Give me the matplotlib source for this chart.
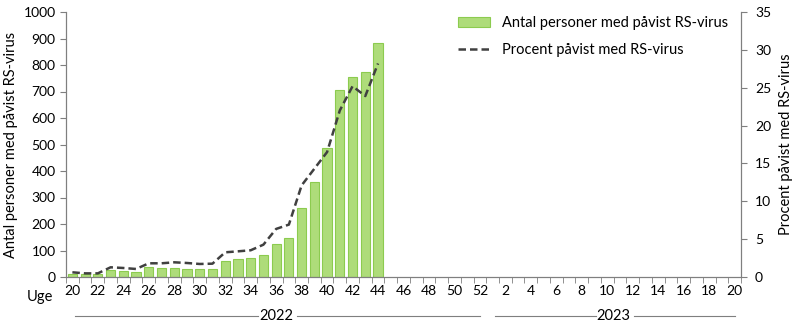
import numpy as np
import matplotlib.pyplot as plt
import matplotlib.transforms as mtransforms

plt.rcParams['font.family'] = ['Lato', 'DejaVu Sans']

# weeks 20-52 of 2022, then 1-20 of 2023
weeks_2022 = list(range(20, 53))
weeks_2023 = list(range(1, 21))
weeks = weeks_2022 + weeks_2023

# counts of persons with RS-virus (weeks 20..44 of 2022)
antal = [13, 10, 13, 28, 24, 20, 39, 35, 35, 31, 31, 31, 62, 69, 73, 84,
         126, 149, 262, 360, 485, 704, 753, 773, 882]
# percent positive
procent = [0.62, 0.48, 0.48, 1.28, 1.19, 1.06, 1.81, 1.81, 1.94, 1.85, 1.72,
           1.76, 3.26, 3.39, 3.53, 4.27, 6.35, 6.92, 12.1, 14.3, 16.5, 22.0,
           25.2, 23.9, 28.2]

tick_labels = [str(w) if w % 2 == 0 else '' for w in weeks]

grey = '#7f7f7f'
fig = plt.figure(figsize=(8.01, 3.32), dpi=100)
ax = fig.add_axes([66/801, 1-277/332, 675/801, 265/332])
ax2 = ax.twinx()

x = np.arange(len(antal))
ax.bar(x, antal, width=0.72, color='#aedc7a', edgecolor='#8ccb4f',
       linewidth=0.8, label='Antal personer med påvist RS-virus', zorder=2)
ax2.plot(x, procent, color='#404040', linestyle=(0, (3, 1.6)), linewidth=1.8,
         label='Procent påvist med RS-virus', zorder=3)

n = len(weeks)
ax.set_xlim(-0.5, n - 0.5)
ax.set_ylim(0, 1000)
ax2.set_ylim(0, 35)
ax.set_yticks(np.arange(0, 1001, 100))
ax2.set_yticks(np.arange(0, 36, 5))
ax.set_xticks(np.arange(n))
ax.set_xticklabels(tick_labels)
ax.set_xticks(np.arange(n + 1) - 0.5, minor=True)
ax.tick_params(axis='x', which='major', length=0, pad=6, labelsize=10)
ax.tick_params(axis='x', which='minor', length=4, color=grey)
ax.tick_params(axis='y', length=4, color=grey, labelsize=10)
ax2.tick_params(axis='y', length=4, color=grey, labelsize=10, pad=6)

for a in (ax, ax2):
    a.spines['top'].set_visible(False)
    for s in ('left', 'right', 'bottom'):
        a.spines[s].set_color(grey)

ax.set_ylabel('Antal personer med påvist RS-virus', fontsize=10.5, labelpad=4)
ax2.set_ylabel('Procent påvist med RS-virus', fontsize=10.5, labelpad=6)

fig.text(40/801, 1-297/332, 'Uge', fontsize=10.5, ha='center', va='center')

# year labels with lines
trans = mtransforms.blended_transform_factory(ax.transData, ax.transAxes)
yy = -39/265
for start, stop, label in [(0, len(weeks_2022) - 1, '2022'),
                           (len(weeks_2022), n - 1, '2023')]:
    mid = (start + stop) / 2
    ax.text(mid, yy, label, transform=trans, ha='center', va='center',
            fontsize=10.5)
    ax.plot([start + 0.2, mid - 1.4], [yy, yy], transform=trans, color=grey,
            linewidth=0.8, clip_on=False)
    ax.plot([mid + 1.6, stop - 0.0], [yy, yy], transform=trans, color=grey,
            linewidth=0.8, clip_on=False)

h1, l1 = ax.get_legend_handles_labels()
h2, l2 = ax2.get_legend_handles_labels()
ax.legend(h1 + h2, l1 + l2, loc='upper right', bbox_to_anchor=(1.0, 1.035),
          frameon=False, fontsize=10.5, handlelength=2.2, handletextpad=0.8,
          labelspacing=0.9)

fig.savefig('out.png', dpi=100)
